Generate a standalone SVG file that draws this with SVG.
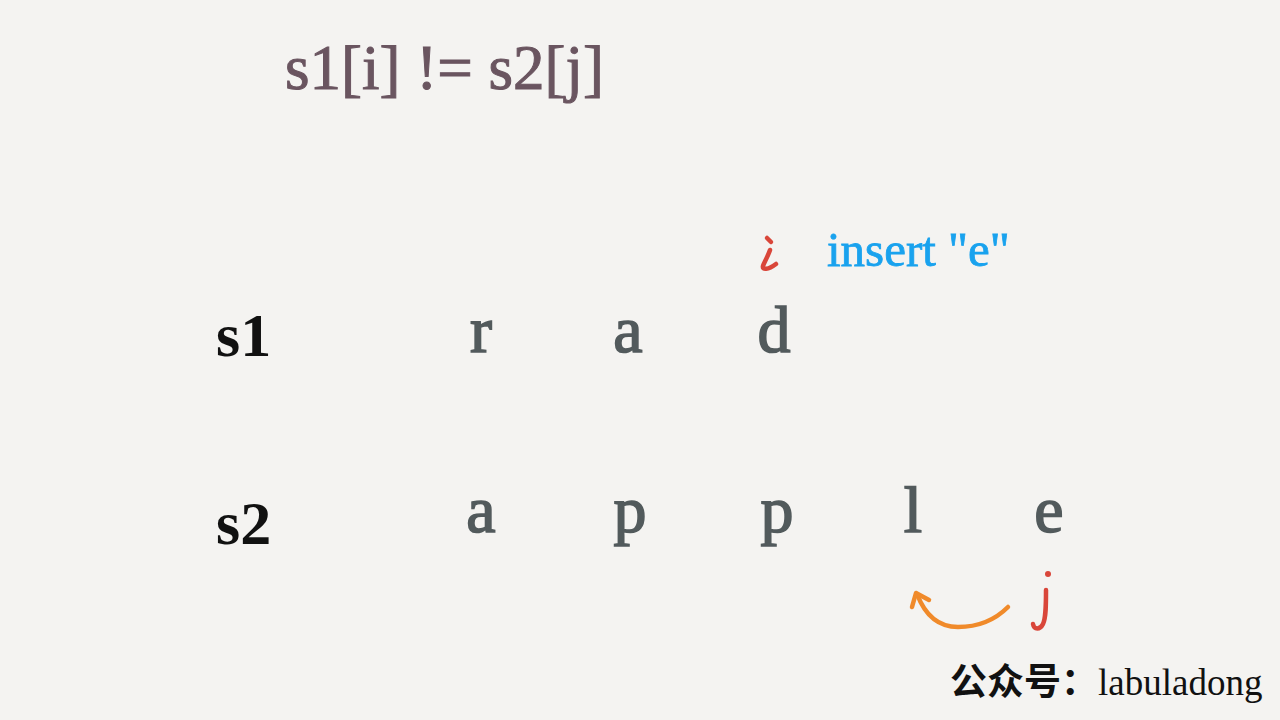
<svg xmlns="http://www.w3.org/2000/svg" width="1280" height="720" viewBox="0 0 1280 720">
<style>
.title{font-family:"Liberation Serif","DejaVu Serif",serif;font-size:63px;fill:#6a5560;stroke:#6a5560;stroke-width:1}
.lab{font-family:"Liberation Serif","DejaVu Serif",serif;font-size:62px;font-weight:bold;fill:#111}
.ch{font-family:"Liberation Serif","DejaVu Serif",serif;font-size:66px;fill:#525a5c;stroke:#525a5c;stroke-width:1.6;text-anchor:middle}
.hand{fill:none;stroke:#d9463a;stroke-width:4.5;stroke-linecap:round;stroke-linejoin:round}
.ins{font-family:"Liberation Serif","DejaVu Serif",serif;font-size:49px;fill:#19a2ee;stroke:#19a2ee;stroke-width:0.8}
.foot{font-family:"Liberation Serif","Noto Sans CJK SC",serif;font-size:37px;fill:#111}
.cjk{font-family:"Noto Sans CJK SC",sans-serif;font-weight:bold}
.arr{fill:none;stroke:#f08a2a;stroke-width:4.5;stroke-linecap:round;stroke-linejoin:round}
</style>
<rect width="1280" height="720" fill="#f4f3f1"/>
<g id="title"><text class="title" x="285" y="89">s1[i] != s2[j]</text></g>
<g id="label-s1"><text class="lab" x="216" y="356">s1</text></g>
<g id="label-s2"><text class="lab" x="216" y="544">s2</text></g>
<g id="s1-r"><text class="ch" x="481" y="352">r</text></g>
<g id="s1-a"><text class="ch" x="628" y="352">a</text></g>
<g id="s1-d"><text class="ch" x="774" y="352">d</text></g>
<g id="s2-a"><text class="ch" x="481" y="532">a</text></g>
<g id="s2-p1"><text class="ch" x="630" y="532">p</text></g>
<g id="s2-p2"><text class="ch" x="777" y="532">p</text></g>
<g id="s2-l"><text class="ch" x="913" y="532">l</text></g>
<g id="s2-e"><text class="ch" x="1049" y="532">e</text></g>
<g id="pointer-i">
<path class="hand" d="M770,250 C768,256 764,263 763,266 C762,270 768,270 776,264"/>
<path class="hand" d="M767,238 L771,242"/>
</g>
<g id="insert-label"><text class="ins" x="827" y="266">insert "e"</text></g>
<g id="pointer-j">
<path class="hand" d="M1046,590 C1046,605 1046,618 1043,624 C1040,630 1034,630 1033,624"/>
<circle cx="1048" cy="574" r="3" fill="#d9463a"/>
</g>
<g id="connectors">
<path class="arr" d="M1008,607 C995,620 980,627 958,627 C938,627 925,615 917,594"/>
<path class="arr" d="M912,607 L916,593 L929,600"/>
</g>
<g id="footer"><text class="foot" x="950" y="695"><tspan class="cjk">公众号：</tspan>labuladong</text></g>
</svg>
